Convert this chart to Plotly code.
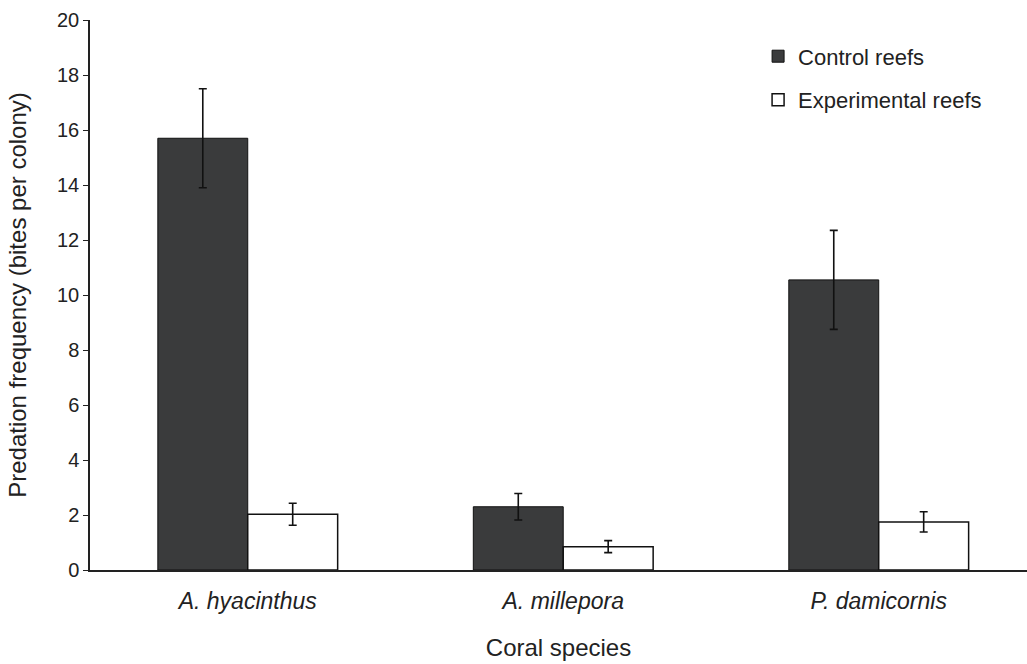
import plotly.graph_objects as go

species = ["A. hyacinthus", "A. millepora", "P. damicornis"]
control_mean = [15.7, 2.3, 10.55]
control_err = [1.8, 0.48, 1.8]
experimental_mean = [2.03, 0.85, 1.75]
experimental_err = [0.4, 0.22, 0.37]
y_ticks = [0, 2, 4, 6, 8, 10, 12, 14, 16, 18, 20]

FONT = "Liberation Sans, Arial, sans-serif"
INK = "#222222"

fig = go.Figure()
fig.add_trace(go.Bar(
    name="Control reefs", x=species, y=control_mean,
    marker=dict(color="#3a3b3c", line=dict(color="#111111", width=1)),
    error_y=dict(type="data", array=control_err, color="#111111", thickness=1.6, width=4),
    legendgroup="c",
))
fig.add_trace(go.Bar(
    name="Experimental reefs", x=species, y=experimental_mean,
    marker=dict(color="#ffffff", line=dict(color="#111111", width=1.5)),
    error_y=dict(type="data", array=experimental_err, color="#111111", thickness=1.6, width=4),
    legendgroup="e",
))

fig.update_layout(
    width=1027, height=664,
    margin=dict(l=90, r=0, t=20, b=94),
    paper_bgcolor="white", plot_bgcolor="white",
    barmode="group", bargap=0.43, bargroupgap=0,
    font=dict(family=FONT, color=INK),
    showlegend=True,
    legend=dict(
        x=0.713, y=0.972, xanchor="left", yanchor="top",
        font=dict(size=22, family=FONT, color=INK),
        traceorder="grouped", tracegroupgap=12,
        bgcolor="rgba(0,0,0,0)",
    ),
    xaxis=dict(
        range=[-0.5, 2.47], automargin=False,
        tickmode="array", tickvals=species,
        ticktext=[f"<i>{s}</i>" for s in species],
        tickfont=dict(size=23, family=FONT, color=INK),
        ticklabelstandoff=10,
        showline=True, linecolor=INK, linewidth=1.5,
        ticks="", showgrid=False, zeroline=False,
        title=dict(text="Coral species", font=dict(size=24, family=FONT, color=INK), standoff=26),
    ),
    yaxis=dict(
        range=[0, 20], tickmode="array", tickvals=y_ticks, automargin=False,
        tickfont=dict(size=20, family=FONT, color=INK),
        showline=True, linecolor=INK, linewidth=1.5,
        ticks="outside", ticklen=5, tickwidth=1.2, tickcolor=INK,
        showgrid=False, zeroline=False,
        title=dict(text="Predation frequency (bites per colony)", font=dict(size=24, family=FONT, color=INK), standoff=24),
    ),
)

fig.write_html("out.html")
